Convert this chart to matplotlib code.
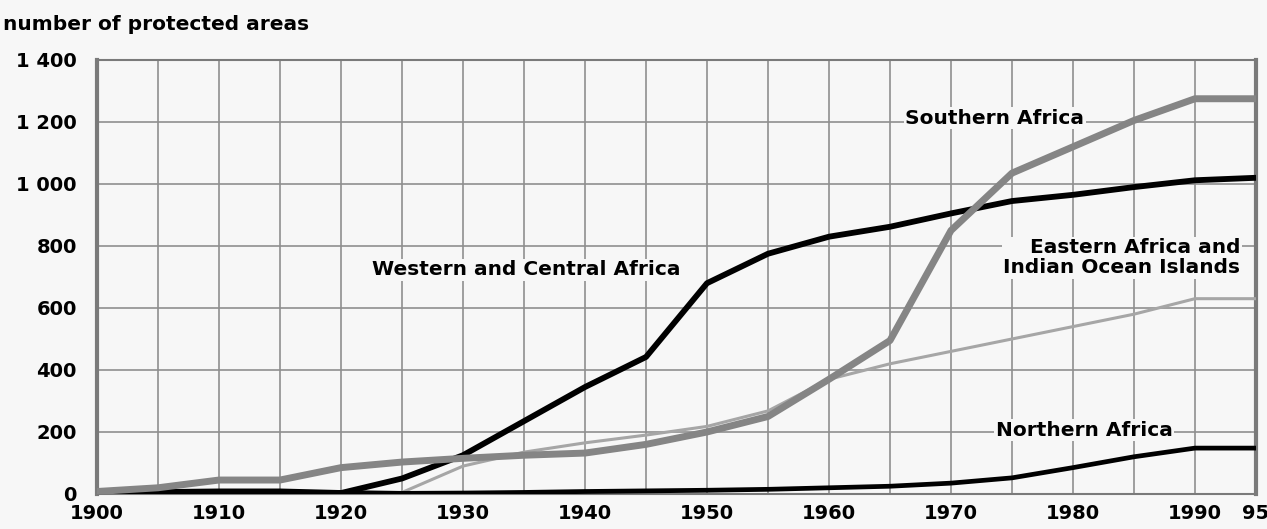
import matplotlib.pyplot as plt
from matplotlib.ticker import MultipleLocator

years = [1900, 1905, 1910, 1915, 1920, 1925, 1930, 1935, 1940, 1945,
         1950, 1955, 1960, 1965, 1970, 1975, 1980, 1985, 1990, 1995]

southern = [8, 20, 45, 45, 85, 103, 115, 125, 132, 160,
            200, 250, 370, 495, 850, 1035, 1120, 1205, 1275, 1275]
western = [0, 0, 0, 0, 3, 50, 125, 235, 345, 442,
           680, 775, 830, 862, 905, 945, 965, 990, 1012, 1020]
eastern = [0, 0, 0, 0, 0, 5, 90, 135, 165, 190,
           218, 268, 370, 420, 460, 500, 540, 580, 630, 630]
northern = [8, 8, 10, 10, 5, 2, 3, 5, 8, 10,
            12, 15, 20, 25, 35, 52, 85, 120, 148, 148]

x_ticks = [1900, 1910, 1920, 1930, 1940, 1950, 1960, 1970, 1980, 1990, 1995]
x_labels = ["1900", "1910", "1920", "1930", "1940", "1950", "1960",
            "1970", "1980", "1990", "95"]
y_ticks = [0, 200, 400, 600, 800, 1000, 1200, 1400]
y_labels = ["0", "200", "400", "600", "800", "1 000", "1 200", "1 400"]

plt.rcParams["font.family"] = ["DejaVu Sans"]
bg = "#f7f7f7"

fig = plt.figure(figsize=(12.67, 5.29), dpi=100, facecolor=bg)
ax = fig.add_axes([0.0766, 0.0662, 0.9147, 0.8204], facecolor=bg)

ax.plot(years, eastern, color="#a6a6a6", lw=2.2, zorder=3)
ax.plot(years, northern, color="black", lw=3.4, zorder=4)
ax.plot(years, western, color="black", lw=4.2, zorder=4)
ax.plot(years, southern, color="#858585", lw=5.0, zorder=5)

ax.set_xlim(1900, 1995)
ax.set_ylim(0, 1400)
ax.set_xticks(x_ticks)
ax.set_xticklabels(x_labels)
ax.set_yticks(y_ticks)
ax.set_yticklabels(y_labels)
ax.xaxis.set_minor_locator(MultipleLocator(5))
ax.grid(True, which="both", color="#8f8f8f", lw=1.2, zorder=1)
ax.tick_params(axis="both", which="both", length=0, labelsize=14)
ax.tick_params(axis="y", pad=14.5)
ax.tick_params(axis="x", pad=7.5)
for lbl in ax.get_xticklabels() + ax.get_yticklabels():
    lbl.set_fontweight("bold")
for s in ax.spines.values():
    s.set_color("#7a7a7a")
    s.set_linewidth(1.5)
ax.spines["left"].set_linewidth(3)
ax.spines["right"].set_linewidth(3)

box = dict(facecolor=bg, edgecolor="none", pad=1)
txt = dict(fontsize=14.5, fontweight="bold", zorder=6, bbox=box)
ax.text(1973.6, 1212, "Southern Africa", ha="center", va="center", **txt)
ax.text(1993.7, 762, "Eastern Africa and\nIndian Ocean Islands",
        ha="right", va="center", linespacing=1.05, **txt)
ax.text(1935.2, 723, "Western and Central Africa", ha="center", va="center", **txt)
ax.text(1980.9, 206, "Northern Africa", ha="center", va="center", **txt)

fig.text(0.002, 0.943, "number of protected areas", fontsize=14.5,
         fontweight="bold", ha="left", va="baseline")

fig.savefig("out.png", dpi=100, facecolor=bg)
